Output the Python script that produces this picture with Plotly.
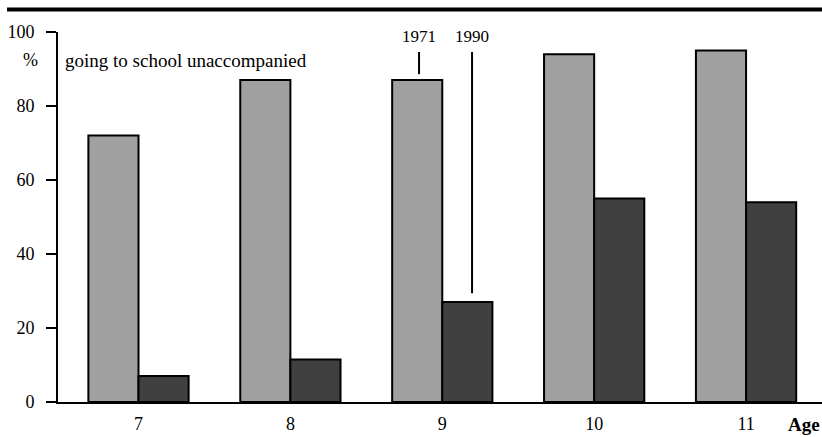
import plotly.graph_objects as go

ages = [7, 8, 9, 10, 11]
tick_labels = ["7", "8", "9", "10", "11"]
pct_1971 = [72, 87, 87, 94, 95]
pct_1990 = [7, 11.5, 27, 55, 54]
y_ticks = [0, 20, 40, 60, 80, 100]

W, H = 822, 437
ML, MR, MT, MB = 58, 0, 32, 35
PW, PH = W - ML - MR, H - MT - MB

def px_x(p):
    return (p - ML) / PW

def px_y(p):
    return 1 - (p - MT) / PH

FONT = "Liberation Serif, Times New Roman, serif"

fig = go.Figure()
fig.add_trace(go.Bar(x=ages, y=pct_1971, name="1971",
                     marker=dict(color="#a0a0a0", line=dict(color="black", width=2))))
fig.add_trace(go.Bar(x=ages, y=pct_1990, name="1990",
                     marker=dict(color="#404040", line=dict(color="black", width=2))))

fig.update_layout(
    width=W, height=H,
    margin=dict(l=ML, r=MR, t=MT, b=MB, pad=0),
    paper_bgcolor="white", plot_bgcolor="white",
    barmode="group", bargap=0.34, bargroupgap=0,
    showlegend=False,
    font=dict(family=FONT, size=18, color="black"),
    xaxis=dict(range=[6.47, 11.5], tickvals=ages, ticktext=tick_labels,
               showgrid=False, zeroline=False, showline=True, linecolor="black",
               linewidth=2, ticks="outside", ticklen=4, tickcolor="rgba(0,0,0,0)",
               tickfont=dict(family=FONT, size=18)),
    yaxis=dict(range=[0, 100], tickvals=y_ticks, showgrid=False, zeroline=False,
               showline=True, linecolor="black", linewidth=2, ticks="outside",
               ticklen=10, tickwidth=2, tickcolor="black", ticklabelstandoff=8,
               tickfont=dict(family=FONT, size=18)),
)

# header rule
fig.add_shape(type="line", xref="paper", yref="paper",
              x0=px_x(7), x1=px_x(822), y0=px_y(9.5), y1=px_y(9.5),
              line=dict(color="black", width=4))

# pointer lines
fig.add_shape(type="line", xref="x", yref="y", x0=8.847, x1=8.847, y0=88.6, y1=94.6,
              line=dict(color="black", width=2))
fig.add_shape(type="line", xref="x", yref="y", x0=9.196, x1=9.196, y0=29.4, y1=94.6,
              line=dict(color="black", width=2))

fig.add_annotation(x=8.847, y=98.8, xref="x", yref="y", text="1971", showarrow=False,
                   font=dict(family=FONT, size=17))
fig.add_annotation(x=9.196, y=98.8, xref="x", yref="y", text="1990", showarrow=False,
                   font=dict(family=FONT, size=17))

fig.add_annotation(x=px_x(63), y=px_y(60), xref="paper", yref="paper",
                   xanchor="left", yanchor="middle",
                   text="going to school unaccompanied", showarrow=False,
                   font=dict(family=FONT, size=19))
fig.add_annotation(x=px_x(30), y=px_y(60), xref="paper", yref="paper",
                   xanchor="center", yanchor="middle", text="%", showarrow=False,
                   font=dict(family=FONT, size=18))
fig.add_annotation(x=px_x(786), y=px_y(424), xref="paper", yref="paper",
                   xanchor="left", yanchor="middle", text="<b>Age</b>", showarrow=False,
                   font=dict(family=FONT, size=19))

fig.write_html("out.html", config={"displayModeBar": False},
               post_script="document.body.style.margin='0';document.body.style.overflow='hidden';")
